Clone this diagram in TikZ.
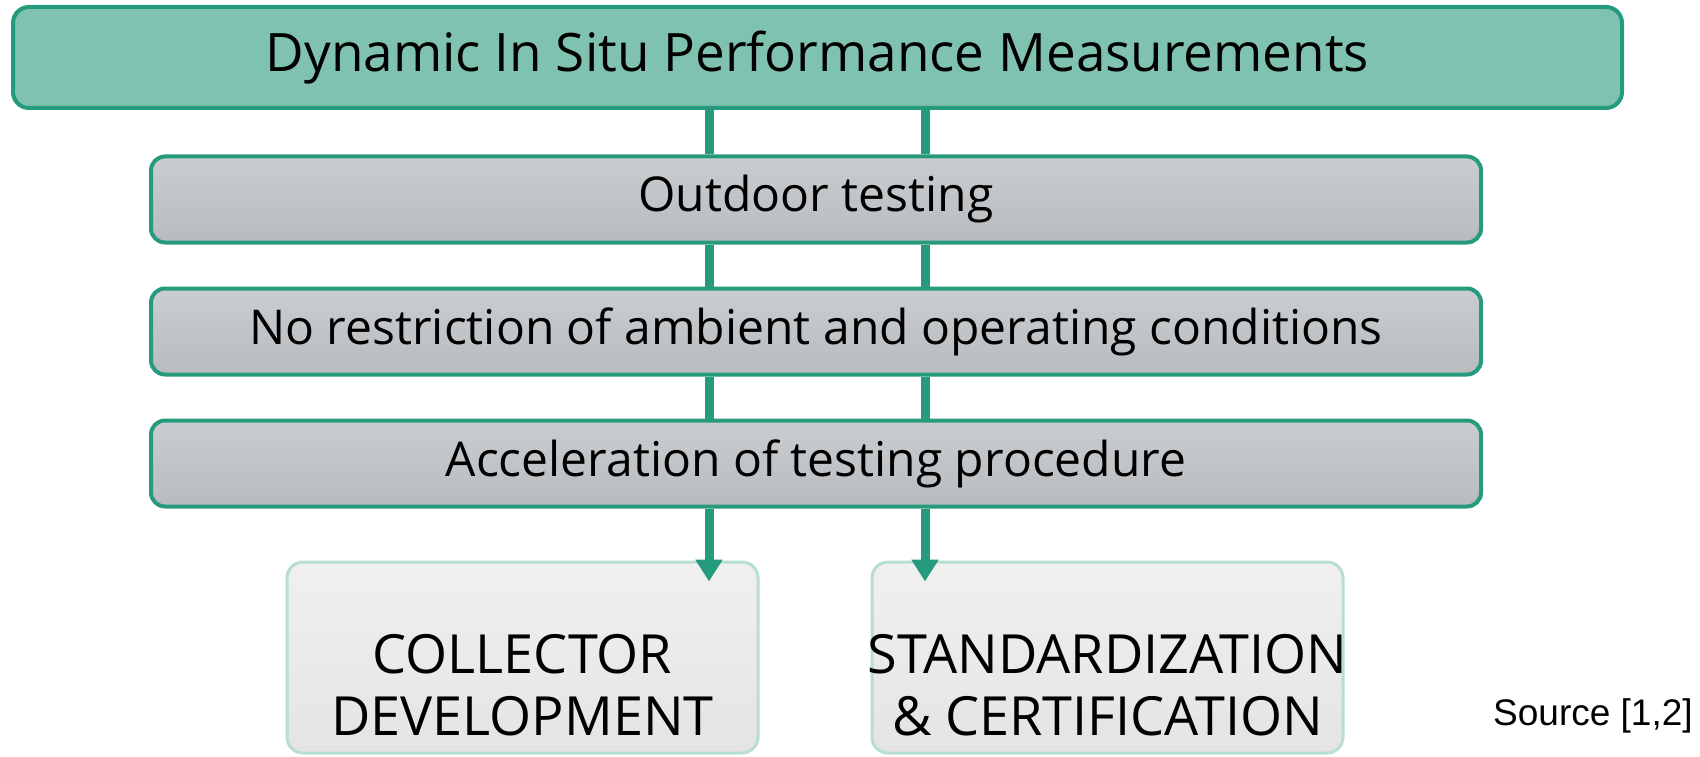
\documentclass[tikz,border=0pt]{standalone}
\usepackage{fontspec}
\setmainfont{Open Sans}
\newfontfamily\srcfont{Liberation Sans}
\usetikzlibrary{positioning,calc,arrows.meta}

\definecolor{headfill}{HTML}{80C2B0}
\definecolor{tealline}{HTML}{259A7D}
\definecolor{greytop}{HTML}{CACDCF}
\definecolor{greybot}{HTML}{B9BCBF}
\definecolor{lighttop}{HTML}{F0F0F0}
\definecolor{lightbot}{HTML}{E4E4E4}
\definecolor{lightline}{HTML}{B8DDD3}

\begin{document}
\begin{tikzpicture}[
  x=1pt, y=-1pt,
  headbox/.style={draw=tealline, line width=4pt, fill=headfill, rounded corners=16pt,
    minimum width=1609pt, minimum height=101pt, inner sep=0pt,
    font=\fontsize{53}{60}\selectfont},
  stagebox/.style={draw=tealline, line width=4pt, top color=greytop, bottom color=greybot,
    rounded corners=14pt, minimum width=1330pt, minimum height=86pt, inner sep=0pt,
    font=\fontsize{48}{54}\selectfont},
  goalbox/.style={draw=lightline, line width=3pt, top color=lighttop, bottom color=lightbot,
    rounded corners=16pt, minimum width=471pt, minimum height=191pt, inner sep=0pt},
  goaltext/.style={align=center, inner sep=0pt, font=\fontsize{54}{62}\selectfont},
  link/.style={draw=tealline, line width=9pt},
  arrow/.style={link, -{Triangle[width=26pt,length=22pt]}}
]
\useasboundingbox (0,0) rectangle (1700,757);

% boxes
\node[headbox] (head) at (817.5,57.5) {Dynamic In Situ Performance Measurements};
\node[stagebox] (outdoor) at (816,199.5) {Outdoor testing};
\node[stagebox] (ambient) at (816,331.5) {No restriction of ambient and operating conditions};
\node[stagebox] (accel) at (816,463.5) {Acceleration of testing procedure};
\node[goalbox] (collector) at (522.5,657.5) {};
\node[goalbox] (standard) at (1107.5,657.5) {};
\node[goaltext] (collectortxt) at ($(collector)+(0,28)$) {COLLECTOR\\DEVELOPMENT};
\node[goaltext] (standardtxt) at ($(standard)+(0,28)$) {STANDARDIZATION\\\& CERTIFICATION};
\node[anchor=base west, inner sep=0pt, font=\srcfont\fontsize{37}{42}\selectfont] (source) at (1493,725) {Source [1,2]};

% columns of the connectors
\coordinate (colL) at (709,0);
\coordinate (colR) at (925,0);
\coordinate (tipL) at ($(colL |- collector.north)+(0,21)$);
\coordinate (tipR) at ($(colR |- standard.north)+(0,21)$);

\foreach \col in {colL,colR} {
  \draw[link] (head.south -| \col) -- (outdoor.north -| \col);
  \draw[link] (outdoor.south -| \col) -- (ambient.north -| \col);
  \draw[link] (ambient.south -| \col) -- (accel.north -| \col);
}
\draw[arrow] (accel.south -| colL) -- (tipL);
\draw[arrow] (accel.south -| colR) -- (tipR);
\end{tikzpicture}
\end{document}
